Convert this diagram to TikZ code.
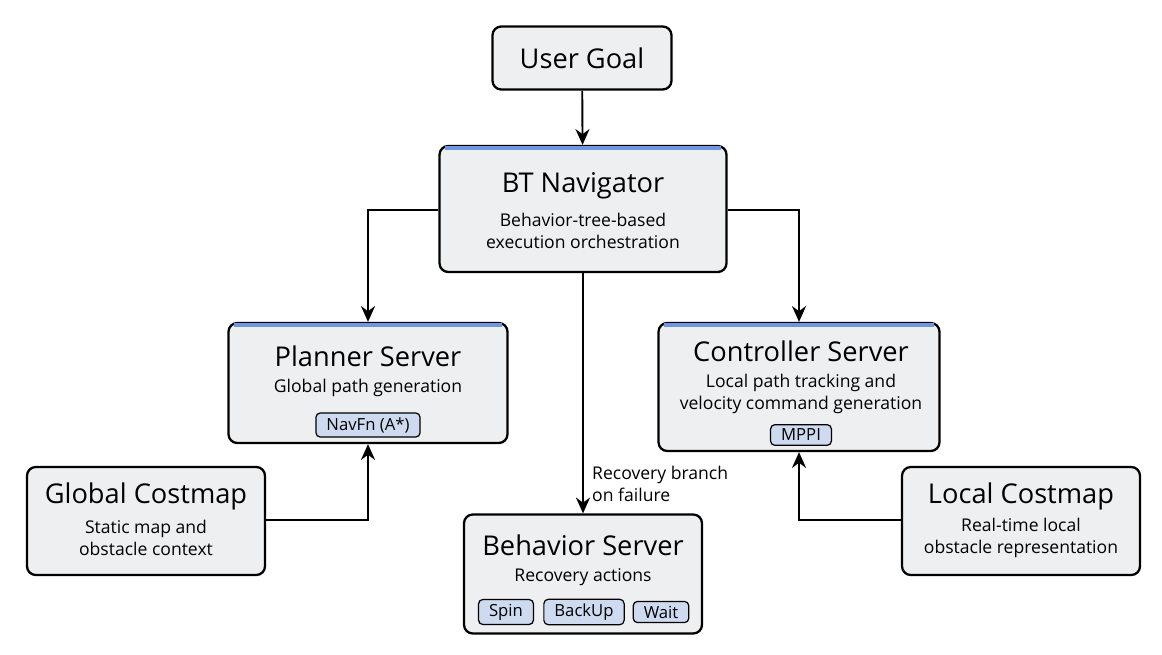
\documentclass[tikz,border=0pt]{standalone}
\usepackage{fontspec}
\setmainfont{Open Sans}
\usetikzlibrary{arrows.meta,positioning}
\definecolor{boxfill}{RGB}{238,239,241}
\definecolor{barblue}{RGB}{110,150,225}
\definecolor{tagfill}{RGB}{205,218,240}
\tikzset{
  box/.style={draw, line width=1.3pt, rounded corners=5pt, fill=boxfill, inner sep=0pt},
  title/.style={font=\fontsize{15.5}{18}\selectfont},
  sub/.style={font=\fontsize{10}{12.5}\selectfont, align=center},
  tag/.style={draw, rounded corners=2.5pt, fill=tagfill, font=\fontsize{9.5}{11}\selectfont, inner xsep=6pt, inner ysep=2.5pt, line width=0.7pt},
  conn/.style={-{Stealth[length=9pt,width=8pt]}, line width=1.1pt},
  bar/.style={barblue, line width=2pt}
}
\begin{document}
\begin{tikzpicture}[x=0.02cm,y=-0.02cm]
\useasboundingbox (0,0) rectangle (1162,655);
% boxes
\node[box, minimum width=179*0.02cm, minimum height=63*0.02cm] (goal) at (582,58) {};
\node[title] at (goal) {User Goal};
\node[box, minimum width=287*0.02cm, minimum height=126*0.02cm] (bt) at (583,209) {};
\node[box, minimum width=279*0.02cm, minimum height=120*0.02cm] (plan) at (368,383) {};
\node[box, minimum width=281*0.02cm, minimum height=128*0.02cm] (ctrl) at (799,387) {};
\node[box, minimum width=238*0.02cm, minimum height=108*0.02cm] (gcost) at (146,521) {};
\node[box, minimum width=238*0.02cm, minimum height=119*0.02cm] (beh) at (583,574) {};
\node[box, minimum width=238*0.02cm, minimum height=108*0.02cm] (lcost) at (1021,521) {};
% blue top bars
\foreach \b in {bt,plan,ctrl}
  \draw[bar] ([xshift=4pt,yshift=-1.8pt]\b.north west) -- ([xshift=-4pt,yshift=-1.8pt]\b.north east);
% texts
\node[title] at (583,186) {BT Navigator};
\node[sub] at (583,231) {Behavior-tree-based\\execution orchestration};
\node[title] at (368,356) {Planner Server};
\node[sub] at (368,388) {Global path generation};
\node[tag] at (368,425) {NavFn (A*)};
\node[title] at (801,351) {Controller Server};
\node[sub] at (801,394) {Local path tracking and\\velocity command generation};
\node[tag] at (801,435) {MPPI};
\node[title] at (146,496) {Global Costmap};
\node[sub] at (146,538) {Static map and\\obstacle context};
\node[title] at (583,545) {Behavior Server};
\node[sub] at (583,577) {Recovery actions};
\node[tag] (spin) at (506,612) {Spin};
\node[tag] (backup) at (584,612) {BackUp};
\node[tag] (wait) at (661,612) {Wait};
\node[title] at (1021,496) {Local Costmap};
\node[sub] at (1021,538) {Real-time local\\obstacle representation};
% connectors
\draw[conn] (goal) -- (bt);
\draw[conn] (bt.west |- 0,210) -| (plan);
\draw[conn] (bt.east |- 0,210) -| (ctrl);
\draw[conn] (bt) -- (beh);
\node[sub, align=left, anchor=north west] (fail) at (586,460) {Recovery branch\\on failure};
\draw[conn] (gcost.east |- 0,520) -| (plan);
\draw[conn] (lcost.west |- 0,520) -| (ctrl);
\end{tikzpicture}
\end{document}
